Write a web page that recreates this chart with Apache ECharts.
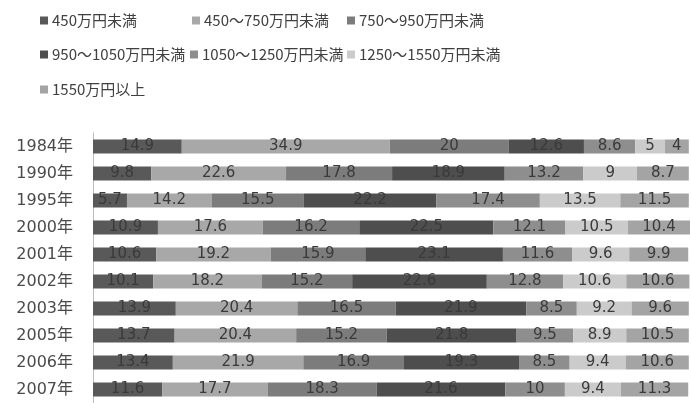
<!DOCTYPE html>
<html>
<head>
<meta charset="utf-8">
<script src="https://cdn.jsdelivr.net/npm/echarts@6/dist/echarts.min.js"></script>
<style>
  html, body { margin: 0; padding: 0; background: #fff; }
  #chart { width: 691px; height: 403px; }
</style>
</head>
<body>
<div id="chart"></div>
<script>
// Household income distribution by year (percent shares, stacked to 100%)
const years = ['1984年', '1990年', '1995年', '2000年', '2001年', '2002年', '2003年', '2005年', '2006年', '2007年'];

const seriesNames = [
  '450万円未満',
  '450～750万円未満',
  '750～950万円未満',
  '950～1050万円未満',
  '1050～1250万円未満',
  '1250～1550万円未満',
  '1550万円以上'
];

const under450    = [14.9, 9.8, 5.7, 10.9, 10.6, 10.1, 13.9, 13.7, 13.4, 11.6];
const from450     = [34.9, 22.6, 14.2, 17.6, 19.2, 18.2, 20.4, 20.4, 21.9, 17.7];
const from750     = [20, 17.8, 15.5, 16.2, 15.9, 15.2, 16.5, 15.2, 16.9, 18.3];
const from950     = [12.6, 18.9, 22.2, 22.5, 23.1, 22.6, 21.9, 21.8, 19.3, 21.6];
const from1050    = [8.6, 13.2, 17.4, 12.1, 11.6, 12.8, 8.5, 9.5, 8.5, 10];
const from1250    = [5, 9, 13.5, 10.5, 9.6, 10.6, 9.2, 8.9, 9.4, 9.4];
const over1550    = [4, 8.7, 11.5, 10.4, 9.9, 10.6, 9.6, 10.5, 10.6, 11.3];

const seriesValues = [under450, from450, from750, from950, from1050, from1250, over1550];
const seriesColors = ['#595959', '#a8a8a8', '#7c7c7c', '#4e4e4e', '#8e8e8e', '#cbcbcb', '#a4a4a4'];

// legend entries laid out in three rows like a spreadsheet chart legend
const legendSpots = [
  { left: 40, top: 13 }, { left: 192, top: 13 }, { left: 347, top: 13 },
  { left: 40, top: 47 }, { left: 190, top: 47 }, { left: 347, top: 47 },
  { left: 40, top: 82 }
];

const fontFamily = '"Noto Sans CJK JP", "Noto Sans", sans-serif';
const digitFont = '"DejaVu Sans", "Noto Sans CJK JP", sans-serif';

const chart = echarts.init(document.getElementById('chart'), null, { renderer: 'canvas' });

chart.setOption({
  animation: false,
  backgroundColor: '#ffffff',
  textStyle: { fontFamily: fontFamily },
  legend: seriesNames.map((name, i) => ({
    data: [name],
    left: legendSpots[i].left,
    top: legendSpots[i].top,
    icon: 'rect',
    itemWidth: 8,
    itemHeight: 8,
    itemGap: 4,
    padding: 0,
    selectedMode: false,
    textStyle: { fontSize: 15, color: '#404040', fontFamily: fontFamily, padding: [0, 0, 0, -1] }
  })),
  grid: { left: 93, top: 133, width: 597, height: 273 },
  xAxis: {
    type: 'value',
    min: 0,
    max: 100.2,
    show: false
  },
  yAxis: {
    type: 'category',
    data: years,
    inverse: true,
    axisLine: { show: true, lineStyle: { color: '#bdbdbd', width: 1 } },
    axisTick: { show: false },
    axisLabel: { color: '#4a4a4a', fontSize: 16, margin: 20, fontFamily: digitFont }
  },
  series: seriesNames.map((name, i) => ({
    name: name,
    type: 'bar',
    stack: 'share',
    barWidth: 14,
    data: seriesValues[i],
    itemStyle: { color: seriesColors[i] },
    label: {
      show: true,
      position: 'inside',
      color: '#3a3a3a',
      fontSize: 15,
      fontFamily: digitFont
    }
  }))
});
</script>
</body>
</html>
